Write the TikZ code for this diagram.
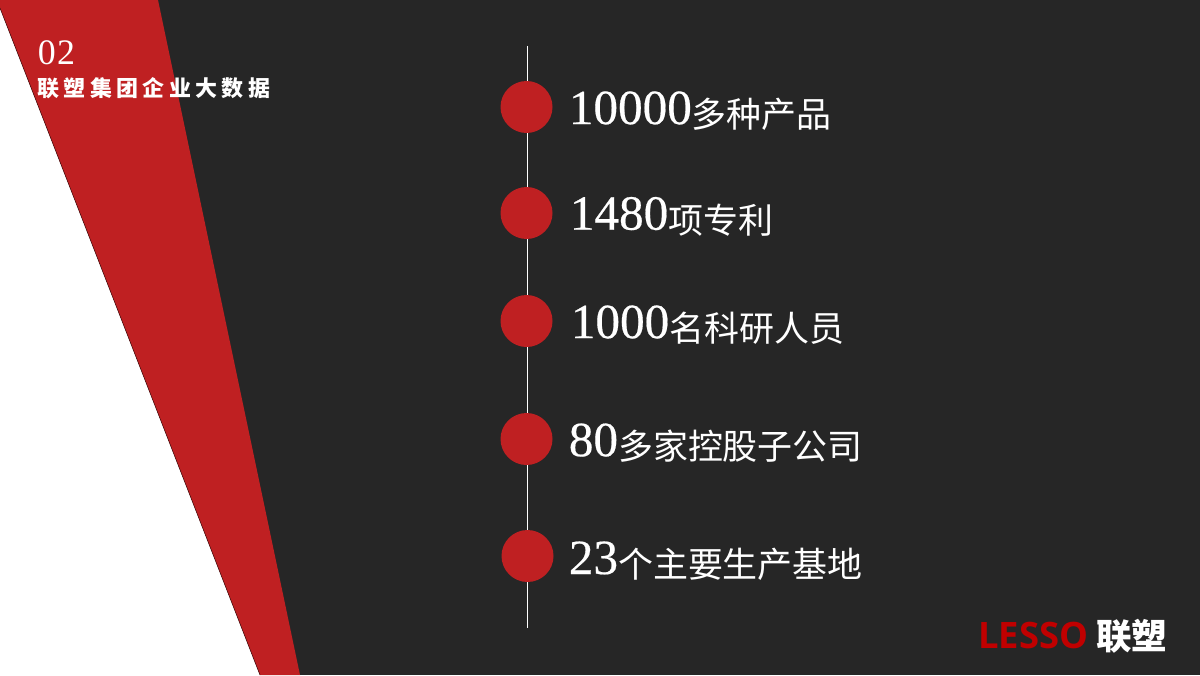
\documentclass[tikz,border=0pt]{standalone}
\usepackage{fontspec}
\setmainfont{Liberation Serif}
\newfontfamily\digitfont[FakeBold=0.4]{Liberation Serif}
\newfontfamily\numfont[LetterSpace=4]{Liberation Serif}
\newfontfamily\cjk{Noto Sans CJK SC}
\newfontfamily\cjktitle[LetterSpace=20]{Noto Sans CJK SC}
\newfontfamily\logofont{Open Sans}
\definecolor{lessored}{HTML}{BF2022}
\definecolor{logored}{HTML}{C00000}
\definecolor{bgdark}{HTML}{262626}
\newcommand{\itemtext}[2]{\raisebox{2pt}{\digitfont\fontsize{28}{30}\selectfont #1}{\cjk\fontsize{19.9}{22}\selectfont #2}}
\tikzset{
  dot/.style={circle,fill=lessored,minimum size=1.04cm,inner sep=0pt},
  itemlabel/.style={anchor=west,text=white,inner sep=0pt}
}

\begin{document}
\begin{tikzpicture}

\useasboundingbox (0, 0) rectangle (24, 13.5);

\fill[bgdark] (0, 0) rectangle (24, 13.5);
\fill[white] (0, 13.34) -- (5.2, 0) -- (0, 0) -- cycle;
\fill[lessored] (0, 13.5) -- (3.16, 13.5) -- (6, 0) -- (5.2, 0) -- (0, 13.34) -- cycle;
\draw[black!65!lessored,line width=0.3pt] (0, 13.34) -- (5.2, 0);

\coordinate (top) at (10.54, 12.58);
\coordinate (bottom) at (10.54, 0.94);
\draw[white,line width=0.35pt] (top) -- (bottom);

\node[dot] (d1) at (10.53, 11.36) {};
\node[dot] (d2) at (10.53, 9.24) {};
\node[dot] (d3) at (10.53, 7.08) {};
\node[dot] (d4) at (10.53, 4.72) {};
\node[dot] (d5) at (10.55, 2.38) {};

\node[itemlabel] (t1) at (11.37, 11.28) {\itemtext{10000}{多种产品}};
\node[itemlabel] (t2) at (11.39, 9.17) {\itemtext{1480}{项专利}};
\node[itemlabel] (t3) at (11.41, 7.00) {\itemtext{1000}{名科研人员}};
\node[itemlabel] (t4) at (11.37, 4.64) {\itemtext{80}{多家控股子公司}};
\node[itemlabel] (t5) at (11.37, 2.28) {\itemtext{23}{个主要生产基地}};

\node[itemlabel] (num) at (0.75, 12.45) {\numfont\fontsize{20.4}{22}\selectfont 02};
\node[itemlabel] (title) at (0.74, 11.74) {\cjktitle\bfseries\fontsize{12.5}{14}\selectfont 联塑集团企业大数据};

\node[itemlabel,text=logored] (lesso) at (19.56, 0.8) {\logofont\bfseries\fontsize{20.7}{24}\selectfont LESSO};
\node[itemlabel] (lianSu) at (21.92, 0.78) {\cjk\bfseries\fontsize{20.2}{22}\selectfont 联塑};

\end{tikzpicture}
\end{document}
